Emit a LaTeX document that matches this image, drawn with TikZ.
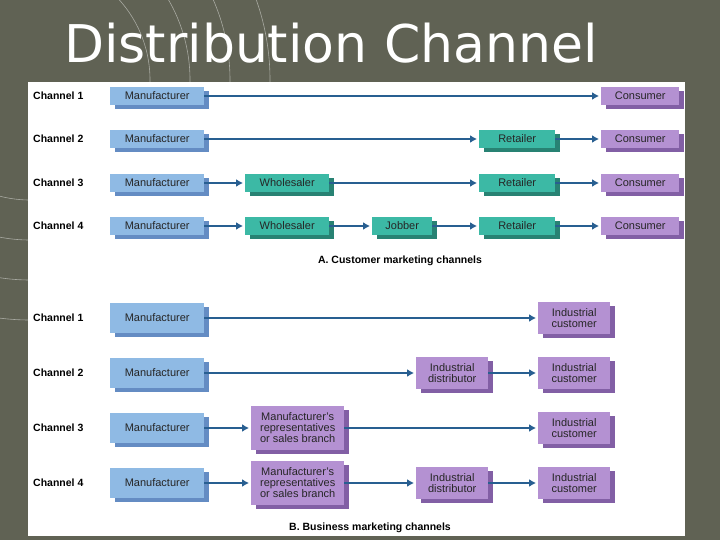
\documentclass[tikz,border=0pt]{standalone}
\usepackage{fontspec}
\setmainfont{Liberation Sans}
\newfontfamily\titlefont{DejaVu Sans}
\usetikzlibrary{arrows.meta}
\definecolor{bg}{RGB}{96,98,84}
\definecolor{mblue}{RGB}{143,186,228}
\definecolor{mblueS}{RGB}{100,140,195}
\definecolor{teal}{RGB}{60,185,165}
\definecolor{tealS}{RGB}{40,130,115}
\definecolor{purp}{RGB}{180,145,210}
\definecolor{purpS}{RGB}{130,95,165}
\definecolor{arr}{RGB}{40,95,145}
\tikzset{
 bx/.style={minimum height=18pt, inner sep=1pt, font=\fontsize{11}{11}\selectfont, text=black!85,
   align=center, anchor=west, draw=none},
 lbl/.style={font=\bfseries\fontsize{10.5}{11}\selectfont, anchor=west, inner sep=0pt},
 con/.style={draw=arr, line width=2.2pt, shorten >=2pt, -{Latex[length=7pt,width=8pt]}},
}
\begin{document}
\begin{tikzpicture}[x=1pt,y=-1pt]
\fill[bg] (0,0) rectangle (720,540);
\useasboundingbox (0,0) rectangle (720,540);
\foreach \r in {120,160,200,240} \draw[white!45!bg, line width=0.6pt] (30,80) circle (\r);
\fill[white] (28,82) rectangle (685,536);
\node[font=\titlefont\fontsize{52}{56}\selectfont, text=white, anchor=west, inner sep=0pt] (title) at (64,43) {Distribution Channel};
\def\BX#1#2#3#4#5#6#7#8{%
  \fill[#7] (#2+5,#3-#5/2+4) rectangle (#2+#4+5,#3+#5/2+4);
  \node[bx, fill=#6, minimum width=#4pt, minimum height=#5pt] (#1) at (#2,#3) {#8};
}
\foreach \i/\y in {1/96,2/139,3/183,4/226}{
  \node[lbl] (c\i) at (33,\y) {Channel \i};
  \BX{m\i}{110}{\y}{94}{18}{mblue}{mblueS}{Manufacturer}
}
\BX{co1}{601}{96}{78}{18}{purp}{purpS}{Consumer}
\BX{co2}{601}{139}{78}{18}{purp}{purpS}{Consumer}
\BX{co3}{601}{183}{78}{18}{purp}{purpS}{Consumer}
\BX{co4}{601}{226}{78}{18}{purp}{purpS}{Consumer}
\BX{r2}{479}{139}{76}{18}{teal}{tealS}{Retailer}
\BX{r3}{479}{183}{76}{18}{teal}{tealS}{Retailer}
\BX{r4}{479}{226}{76}{18}{teal}{tealS}{Retailer}
\BX{w3}{245}{183}{84}{18}{teal}{tealS}{Wholesaler}
\BX{w4}{245}{226}{84}{18}{teal}{tealS}{Wholesaler}
\BX{j4}{372}{226}{60}{18}{teal}{tealS}{Jobber}
\draw[con] (m1) -- (co1);
\draw[con] (m2) -- (r2); \draw[con] (r2) -- (co2);
\draw[con] (m3) -- (w3); \draw[con] (w3) -- (r3); \draw[con] (r3) -- (co3);
\draw[con] (m4) -- (w4); \draw[con] (w4) -- (j4); \draw[con] (j4) -- (r4); \draw[con] (r4) -- (co4);
\node[font=\bfseries\fontsize{10.5}{11}\selectfont] (ta) at (400,261) {A. Customer marketing channels};
\foreach \i/\y in {1/318,2/373,3/428,4/483}{
  \node[lbl] (d\i) at (33,\y) {Channel \i};
  \BX{n\i}{110}{\y}{94}{30}{mblue}{mblueS}{Manufacturer}
}
\foreach \i/\y in {1/318,2/373,3/428,4/483}{
  \BX{ic\i}{538}{\y}{72}{32}{purp}{purpS}{Industrial\\customer}
}
\BX{id2}{416}{373}{72}{32}{purp}{purpS}{Industrial\\distributor}
\BX{id4}{416}{483}{72}{32}{purp}{purpS}{Industrial\\distributor}
\BX{mr3}{251}{428}{93}{44}{purp}{purpS}{Manufacturer's\\representatives\\or sales branch}
\BX{mr4}{251}{483}{93}{44}{purp}{purpS}{Manufacturer's\\representatives\\or sales branch}
\draw[con] (n1) -- (ic1);
\draw[con] (n2) -- (id2); \draw[con] (id2) -- (ic2);
\draw[con] (n3) -- (mr3); \draw[con] (mr3) -- (ic3);
\draw[con] (n4) -- (mr4); \draw[con] (mr4) -- (id4); \draw[con] (id4) -- (ic4);
\node[font=\bfseries\fontsize{10.5}{11}\selectfont] (tb) at (370,528) {B. Business marketing channels};
\end{tikzpicture}
\end{document}
